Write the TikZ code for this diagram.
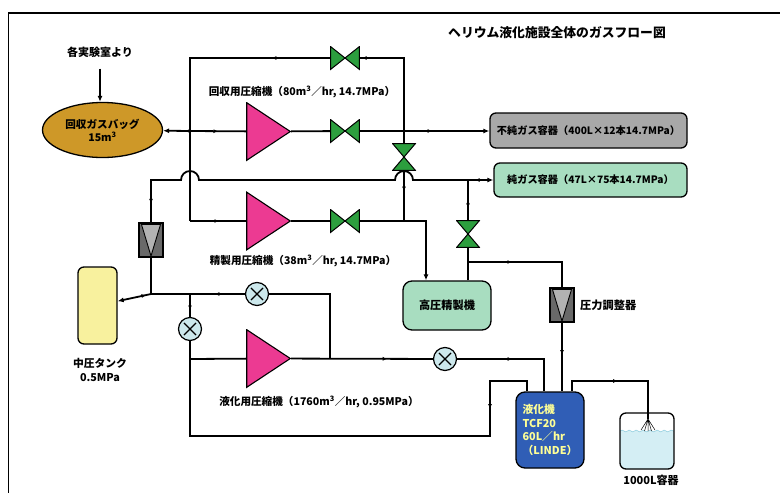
\documentclass[tikz,border=0pt]{standalone}
\usepackage{fontspec}
\setmainfont{Noto Sans CJK JP}
\usetikzlibrary{shapes.geometric,arrows.meta,calc,decorations.markings,decorations.pathmorphing}

\definecolor{bagochre}{RGB}{206,152,40}
\definecolor{comppink}{RGB}{236,58,146}
\definecolor{valvegreen}{RGB}{44,158,62}
\definecolor{cvalvefill}{RGB}{204,232,236}
\definecolor{impuregrey}{RGB}{168,168,168}
\definecolor{mint}{RGB}{168,221,192}
\definecolor{tankyellow}{RGB}{248,241,158}
\definecolor{liqblue}{RGB}{48,94,182}
\definecolor{liqtext}{RGB}{255,255,150}
\definecolor{filtdark}{RGB}{105,105,105}
\definecolor{filtlight}{RGB}{178,178,178}
\definecolor{heliq}{RGB}{212,238,244}
\definecolor{heliqtop}{RGB}{150,208,224}

\tikzset{
  pipe/.style={line width=1.8pt},
  bigpipe/.style={line width=2.7pt},
  endtip/.style={-{Latex[length=6pt,width=5pt]}},
  starttip/.style={{Latex[length=6pt,width=5pt]}-},
  flow/.style={postaction={decorate,decoration={markings,
      mark=at position #1 with {\arrow{Latex[length=4.5pt,width=4pt]}}}}},
  backflow/.style={postaction={decorate,decoration={markings,
      mark=at position #1 with {\arrowreversed{Latex[length=4.5pt,width=4pt]}}}}},
  lbl/.style={font=\fontsize{10.6}{12}\selectfont\bfseries, inner sep=0pt},
  boxtext/.style={font=\fontsize{10.2}{13}\selectfont\bfseries},
  compressor/.style={minimum width=45pt, minimum height=59pt, inner sep=0pt,
    path picture={\filldraw[fill=comppink, line width=1.1pt]
      ($(path picture bounding box.north west)+(0.7pt,-0.7pt)$) --
      ($(path picture bounding box.south west)+(0.7pt,0.7pt)$) --
      ($(path picture bounding box.east)+(-0.7pt,0pt)$) -- cycle;}},
  hvalve/.style={minimum width=30pt, minimum height=24pt, inner sep=0pt,
    path picture={
      \filldraw[fill=valvegreen, line width=1pt]
        ($(path picture bounding box.north west)+(0.6pt,-0.6pt)$) --
        ($(path picture bounding box.south west)+(0.6pt,0.6pt)$) --
        (path picture bounding box.center) -- cycle;
      \filldraw[fill=valvegreen, line width=1pt]
        ($(path picture bounding box.north east)+(-0.6pt,-0.6pt)$) --
        ($(path picture bounding box.south east)+(-0.6pt,0.6pt)$) --
        (path picture bounding box.center) -- cycle;}},
  vvalve/.style={minimum width=24pt, minimum height=28pt, inner sep=0pt,
    path picture={
      \filldraw[fill=valvegreen, line width=1pt]
        ($(path picture bounding box.north west)+(0.6pt,-0.6pt)$) --
        ($(path picture bounding box.north east)+(-0.6pt,-0.6pt)$) --
        (path picture bounding box.center) -- cycle;
      \filldraw[fill=valvegreen, line width=1pt]
        ($(path picture bounding box.south west)+(0.6pt,0.6pt)$) --
        ($(path picture bounding box.south east)+(-0.6pt,0.6pt)$) --
        (path picture bounding box.center) -- cycle;}},
  cvalve/.style={circle, draw, line width=1.2pt, fill=cvalvefill,
    minimum size=23pt, inner sep=0pt,
    path picture={
      \draw[line width=1.2pt] ($(path picture bounding box.center)+(45:8.5pt)$) --
        ($(path picture bounding box.center)+(225:8.5pt)$);
      \draw[line width=1.2pt] ($(path picture bounding box.center)+(135:8.5pt)$) --
        ($(path picture bounding box.center)+(315:8.5pt)$);}},
  filt/.style={draw, line width=1.1pt, fill=filtdark, minimum width=24pt,
    minimum height=34pt, inner sep=0pt,
    path picture={\filldraw[fill=filtlight, line width=0.9pt]
      ($(path picture bounding box.north west)+(2.5pt,-1.5pt)$) --
      ($(path picture bounding box.north east)+(-2.5pt,-1.5pt)$) --
      ($(path picture bounding box.south)+(0pt,1pt)$) -- cycle;}},
  vessel/.style={draw, line width=1.3pt, rounded corners=6pt, inner sep=0pt, boxtext},
  dewar/.style={draw, line width=1.3pt, rounded corners=6pt, minimum width=54pt,
    minimum height=56pt, inner sep=0pt,
    path picture={
      \fill[heliq, sharp corners] ($(path picture bounding box.west)+(0pt,10pt)$)
        decorate[decoration={snake,amplitude=0.9pt,segment length=7pt}]
        {-- ($(path picture bounding box.east)+(0pt,10pt)$)}
        -- (path picture bounding box.south east)
        -- (path picture bounding box.south west) -- cycle;
      \draw[heliqtop, line width=0.6pt, sharp corners]
        ($(path picture bounding box.west)+(0pt,10pt)$)
        decorate[decoration={snake,amplitude=0.9pt,segment length=7pt}]
        {-- ($(path picture bounding box.east)+(0pt,10pt)$)};}},
}

\begin{document}
\begin{tikzpicture}[x=1pt,y=-1pt]
\useasboundingbox (0,0) rectangle (780,493);
\fill[white] (0,0) rectangle (780,493);

% frame
\draw[line width=1.4pt] (8.5,493) -- (8.5,13) -- (780,13);

% title and free labels
\node[font=\fontsize{12.8}{14}\selectfont\bfseries] (ttl) at (557,33) {ヘリウム液化施設全体のガスフロー図};
\node[lbl, font=\fontsize{11}{12}\selectfont\bfseries] (lab) at (100,52) {各実験室より};
\node[lbl] (l1) at (302,92) {回収用圧縮機（80m\textsuperscript{3}／hr, 14.7MPa）};
\node[lbl] (l2) at (303,261) {精製用圧縮機（38m\textsuperscript{3}／hr, 14.7MPa）};
\node[lbl] (l3) at (319,402) {液化用圧縮機（1760m\textsuperscript{3}／hr, 0.95MPa）};
\node[lbl, align=center, font=\fontsize{10.8}{14}\selectfont\bfseries] (ltank) at (100,370) {中圧タンク\\0.5MPa};
\node[lbl, anchor=west, font=\fontsize{11.2}{12}\selectfont\bfseries] (lreg) at (580,305) {圧力調整器};
\node[lbl, font=\fontsize{11}{12}\selectfont\bfseries] (ldew) at (651,480) {1000L容器};

% equipment
\node[ellipse, draw, line width=1.3pt, fill=bagochre, minimum width=120pt,
      minimum height=55pt, inner sep=0pt, align=center,
      font=\fontsize{10.6}{13}\selectfont\bfseries] (bag) at (102.5,130) {回収ガスバッグ\\15m\textsuperscript{3}};
\node[compressor] (c1) at (268.5,131.5) {};
\node[compressor] (c2) at (268.5,221) {};
\node[compressor] (c3) at (268.5,358.5) {};
\node[hvalve] (vtop) at (345,58) {};
\node[hvalve] (v1) at (345,131) {};
\node[hvalve] (v2) at (345,221) {};
\node[vvalve] (vmid) at (404,157) {};
\node[vvalve] (vpure) at (468,234) {};
\node[cvalve] (cv1) at (257,294) {};
\node[cvalve] (cv2) at (190,329) {};
\node[cvalve] (cv3) at (445,359) {};
\node[filt] (f1) at (151,240) {};
\node[filt] (reg) at (562,305) {};
\node[vessel, fill=impuregrey, minimum width=197pt, minimum height=35pt] (impure) at (588.5,130.5) {不純ガス容器（400L×12本14.7MPa）};
\node[vessel, fill=mint, minimum width=193pt, minimum height=34pt] (pure) at (590.5,180) {純ガス容器（47L×75本14.7MPa）};
\node[vessel, fill=mint, rounded corners=9pt, minimum width=88pt, minimum height=49pt,
      font=\fontsize{11.2}{13}\selectfont\bfseries] (hp) at (447,305.5) {高圧精製機};
\node[vessel, fill=tankyellow, minimum width=39pt, minimum height=77pt] (tank) at (97.5,305.5) {};
\node[vessel, fill=liqblue, rounded corners=9pt, minimum width=68pt, minimum height=76pt,
      text=liqtext, align=left, font=\fontsize{10.8}{13.6}\selectfont\bfseries] (liq) at (550,430) {液化機\\TCF20\\60L／hr\\（LINDE）};
\node[dewar] (dew) at (647,441) {};

% junctions and corners
\coordinate (j1) at (190,131);
\coordinate (j2) at (404,131);
\coordinate (j3) at (190,221);
\coordinate (j6) at (468,180);
\coordinate (j7) at (468,262);
\coordinate (j8) at (151,294);
\coordinate (j9) at (190,294);
\coordinate (j10) at (330,359);
\coordinate (j11) at (190,359);
\coordinate (lb1) at (490,381);
\coordinate (lb2) at (490,436);
\coordinate (lb3) at (190,436);
\coordinate (dtop) at (648,381);
\coordinate (spray) at (648,419);
\coordinate (hpin) at ($(hp.north)+(-21pt,0pt)$);
\coordinate (hpout) at ($(hp.north)+(21pt,0pt)$);

% recovery line
\draw[pipe, endtip] ([yshift=-11pt]lab.south) -- (lab.south |- bag.north);
\draw[pipe, endtip, flow=5pt] (j1) -- (bag);
\draw[pipe, flow=28pt] (j1) -- (c1);
\draw[pipe] (c1) -- (v1);
\draw[pipe, endtip, flow=72pt] (v1) -- (impure.west |- v1);
\draw[pipe, flow={-2pt}] (j2) |- (vtop);
\draw[pipe, flow=58pt] (vtop) -| (j3);
\draw[pipe, flow=29pt] (j3) -- (c2);

% purifier line
\draw[pipe] (j2) -- (vmid);
\draw[pipe, flow=20pt] (vmid) -- (vmid |- v2);
\draw[pipe] (c2) -- (v2);
\draw[pipe, endtip] (v2) -| (hpin);
\draw[pipe] (hpout) -- (vpure);
\draw[pipe, flow=20pt] (vpure) -- (j6);
\draw[pipe, endtip, backflow=7pt] (j6) -- (pure.west |- j6);
\draw[pipe, flow={-19pt}] (j6) -- ($(vmid |- j6)+(9pt,0pt)$)
  arc[start angle=0, end angle=180, radius=9pt]
  -- ($(j1 |- j6)+(9pt,0pt)$)
  arc[start angle=0, end angle=180, radius=9pt]
  -- (f1 |- j6) -- (f1);
\draw[pipe, flow=44pt] (j7) -| (reg);
\draw[bigpipe, flow=32pt] (reg) -- (reg |- liq.north);

% medium pressure line
\draw[pipe] (f1) -- (j8);
\draw[pipe, starttip, flow=29pt] (tank) -- (j8);
\draw[pipe, flow=30pt] (cv1) -- (j8);
\draw[pipe, flow=16pt] (j9) -- (cv2);
\draw[pipe] (cv1) -| (j10);

% liquefaction circuit
\draw[pipe] (cv2) -- (j11);
\draw[pipe] (j11) -- (c3);
\draw[pipe, flow=96pt] (c3) -- (cv3);
\draw[pipe, flow=55pt] (cv3) -| ([xshift=-6pt]liq.north);
\draw[bigpipe, flow=75pt] ([xshift=-23pt]liq.north) |- (lb1) -- (lb2) -- (lb3) -- (j11);
\draw[bigpipe, flow=56pt] ([xshift=22pt]liq.north) |- (dtop) -- (spray);
\draw[line width=0.5pt] (spray) -- +(-7pt,-11pt) (spray) -- +(-3.5pt,-12pt)
  (spray) -- +(0pt,-12pt) (spray) -- +(3.5pt,-12pt) (spray) -- +(7pt,-11pt);
\end{tikzpicture}
\end{document}
